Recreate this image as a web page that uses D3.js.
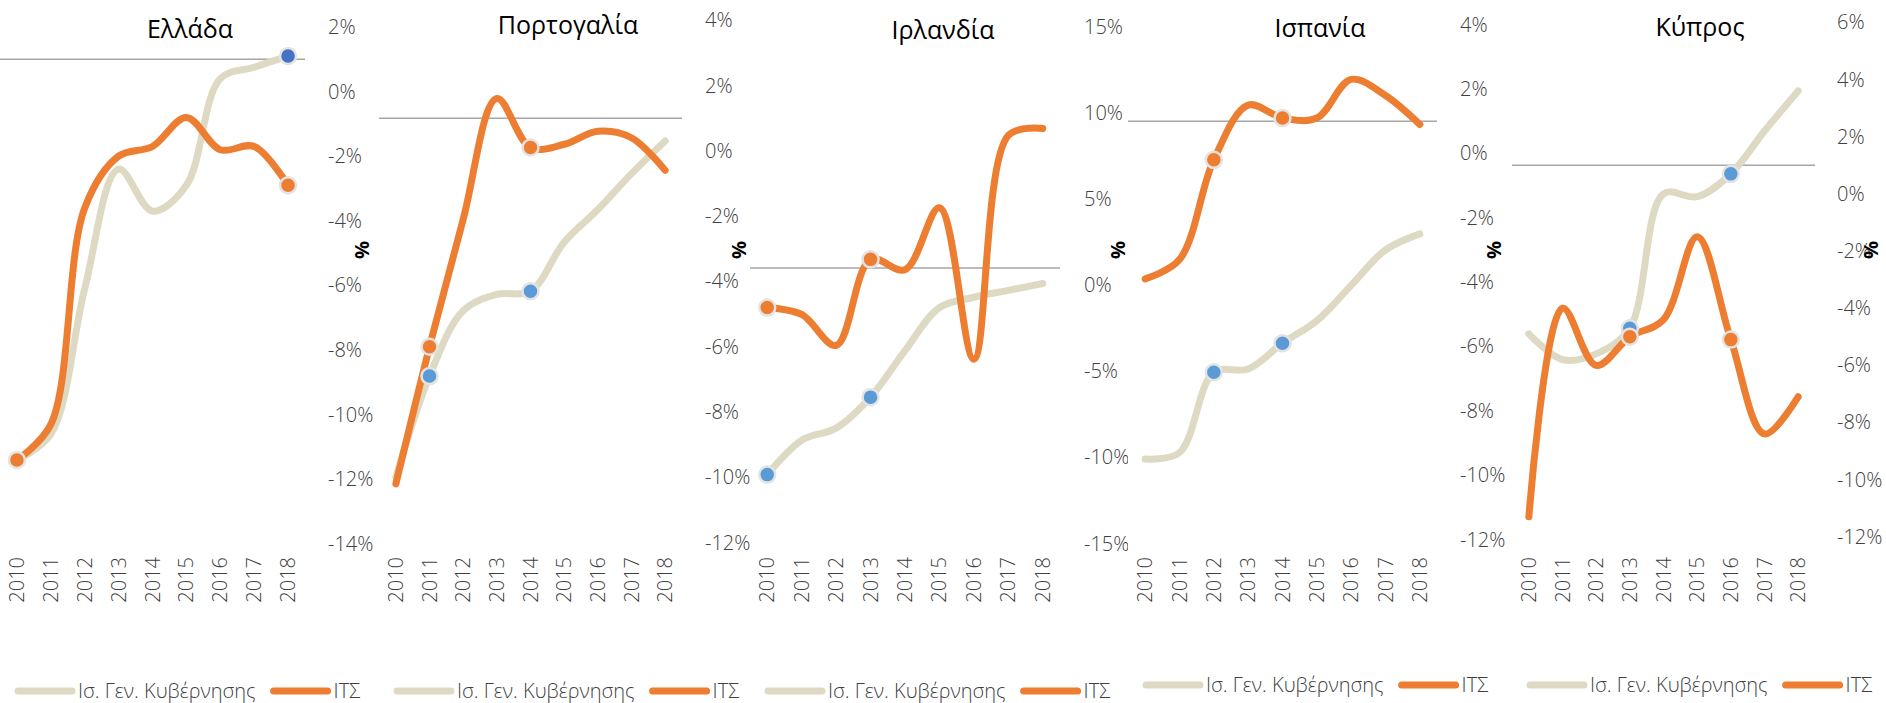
<!DOCTYPE html>
<html>
<head>
<meta charset="utf-8">
<script src="https://cdn.jsdelivr.net/npm/d3@7"></script>
<style>
  body { margin: 0; background: #fff; }
  svg { display: block; font-family: "Open Sans", sans-serif; }
</style>
</head>
<body>
<svg id="chart" width="1886" height="703"></svg>
<script>
/* Five small panels: general government balance vs current account (% of GDP), 2010-2018 */

const years = [2010, 2011, 2012, 2013, 2014, 2015, 2016, 2017, 2018];
const titles = ["Ελλάδα", "Πορτογαλία", "Ιρλανδία", "Ισπανία", "Κύπρος"];
const legendNames = ["Ισ. Γεν. Κυβέρνησης", "ΙΤΣ"];

// general government balance (beige line)
const govGRC = [-11.4, -10.6, -6.1, -2.4, -3.7, -2.9, 0.4, 0.75, 1.1];
const govPRT = [-10.0, -6.9, -4.9, -4.4, -4.3, -2.8, -1.8, -0.7, 0.3];
const govIRL = [-11.0, -9.0, -8.3, -6.5, -3.8, -1.3, -0.7, -0.3, 0.1];
const govESP = [-9.5, -9.3, -6.8, -6.7, -5.9, -5.2, -4.1, -3.0, -2.5];
const govCYP = [-4.9, -5.8, -5.6, -4.7, 0.0, -0.1, 0.7, 2.2, 3.6];

// current account, ΙΤΣ (orange line)
const caGRC = [-11.4, -10.3, -3.6, -2.0, -1.7, -0.8, -1.8, -1.7, -2.9];
const caPRT = [-10.2, -6.0, -2.1, 1.6, 0.1, 0.2, 0.6, 0.4, -0.6];
const caIRL = [-1.3, -1.7, -3.5, 1.5, 0.9, 4.5, -4.3, 8.7, 9.1];
const caESP = [-3.9, -3.3, -0.2, 1.5, 1.1, 1.1, 2.3, 1.8, 0.9];
const caCYP = [-11.3, -4.0, -6.0, -5.0, -4.4, -1.5, -5.1, -8.4, -7.1];

// axis extents per panel
const axisMin = [-14, -12, -15, -12, -12];
const axisMax = [2, 4, 15, 4, 6];
const axisStep = [2, 2, 5, 2, 2];
const refValue = 1;   // the thin grey horizontal line

// highlighted years (markers)
const govDots = [[2018], [2011, 2014], [2010, 2013], [2012, 2014], [2013, 2016]];
const caDots  = [[2010, 2018], [2011, 2014], [2010, 2013], [2012, 2014], [2013, 2016]];

const gov = [govGRC, govPRT, govIRL, govESP, govCYP];
const ca  = [caGRC, caPRT, caIRL, caESP, caCYP];

// panel geometry (px)
const plotLeft  = [0, 379, 750, 1128, 1512];
const plotRight = [305, 682, 1060, 1437, 1815];
const axisX     = [328, 705, 1084, 1460, 1837];
const yTop      = [26.9, 20.2, 26.9, 24.7, 22.4];
const yBot      = [544, 542.6, 543.5, 539.5, 536.8];
const titleX    = [190, 568, 943, 1320, 1700];
const titleY    = [38, 34, 39, 37, 36];
const legendY   = [691, 691, 691, 685, 685];

const BEIGE = "#ddd9c3", ORANGE = "#ed7d31", BLUE = "#5b9bd5", BLUE_GR = "#4472c4";
const LABEL = "#404040";

const svg = d3.select("#chart");

titles.forEach((title, p) => {
  const g = svg.append("g");

  // white plot background - hides the neighbour's axis labels where they overlap
  g.append("rect")
      .attr("x", plotLeft[p]).attr("y", 0)
      .attr("width", plotRight[p] - plotLeft[p] + 8).attr("height", 640)
      .attr("fill", "#fff");

  const x = d3.scalePoint().domain(years).range([plotLeft[p], plotRight[p]]).padding(0.5);
  const y = d3.scaleLinear().domain([axisMin[p], axisMax[p]]).range([yBot[p], yTop[p]]);

  g.append("line")
      .attr("x1", plotLeft[p]).attr("x2", plotRight[p])
      .attr("y1", y(refValue)).attr("y2", y(refValue))
      .attr("stroke", "#a6a6a6").attr("stroke-width", 1.5);

  const line = d3.line()
      .x((d, i) => x(years[i]))
      .y(d => y(d))
      .curve(d3.curveCatmullRom.alpha(0.5));

  [[gov[p], BEIGE], [ca[p], ORANGE]].forEach(([vals, col]) => {
    g.append("path").datum(vals)
        .attr("d", line)
        .attr("fill", "none")
        .attr("stroke", col).attr("stroke-width", 7)
        .attr("stroke-linecap", "round").attr("stroke-linejoin", "round");
  });

  // markers: blue on the balance line, orange on the current account
  const dot = (yr, vals, col) => g.append("circle")
      .attr("cx", x(yr)).attr("cy", y(vals[years.indexOf(yr)]))
      .attr("r", 8).attr("fill", col)
      .attr("stroke", "#e3e3e3").attr("stroke-width", 2.5);
  govDots[p].forEach(yr => dot(yr, gov[p], p === 0 ? BLUE_GR : BLUE));
  caDots[p].forEach(yr => dot(yr, ca[p], ORANGE));

  // value axis on the right of the panel
  const ticks = d3.range(axisMin[p], axisMax[p] + 0.001, axisStep[p]);
  g.selectAll(".tick").data(ticks).join("text")
      .attr("x", axisX[p]).attr("y", d => y(d)).attr("dy", "0.35em")
      .attr("font-size", 20).attr("font-weight", 300).attr("fill", LABEL)
      .text(d => d + "%");

  g.append("text")
      .attr("transform", `translate(${axisX[p] + 34},250) rotate(-90)`)
      .attr("text-anchor", "middle").attr("dy", "0.35em")
      .attr("font-size", 20).attr("font-weight", 700).attr("fill", "#000")
      .text("%");

  // rotated year labels
  g.selectAll(".yr").data(years).join("text")
      .attr("transform", d => `translate(${x(d)},557) rotate(-90)`)
      .attr("text-anchor", "end").attr("dy", "0.35em")
      .attr("font-size", 20).attr("font-weight", 300).attr("fill", LABEL)
      .text(d => d);

  g.append("text")
      .attr("x", titleX[p]).attr("y", titleY[p])
      .attr("text-anchor", "middle")
      .attr("font-size", 25).attr("fill", "#000")
      .text(title);

  // legend
  let lx = plotLeft[p] + 18;
  [[legendNames[0], BEIGE], [legendNames[1], ORANGE]].forEach(([name, col]) => {
    g.append("line")
        .attr("x1", lx).attr("x2", lx + 54)
        .attr("y1", legendY[p]).attr("y2", legendY[p])
        .attr("stroke", col).attr("stroke-width", 7).attr("stroke-linecap", "round");
    const t = g.append("text")
        .attr("x", lx + 60).attr("y", legendY[p]).attr("dy", "0.35em")
        .attr("font-size", 20).attr("font-weight", 300).attr("fill", LABEL)
        .text(name);
    lx += 60 + t.node().getComputedTextLength() + 18;
  });
});
</script>
</body>
</html>
